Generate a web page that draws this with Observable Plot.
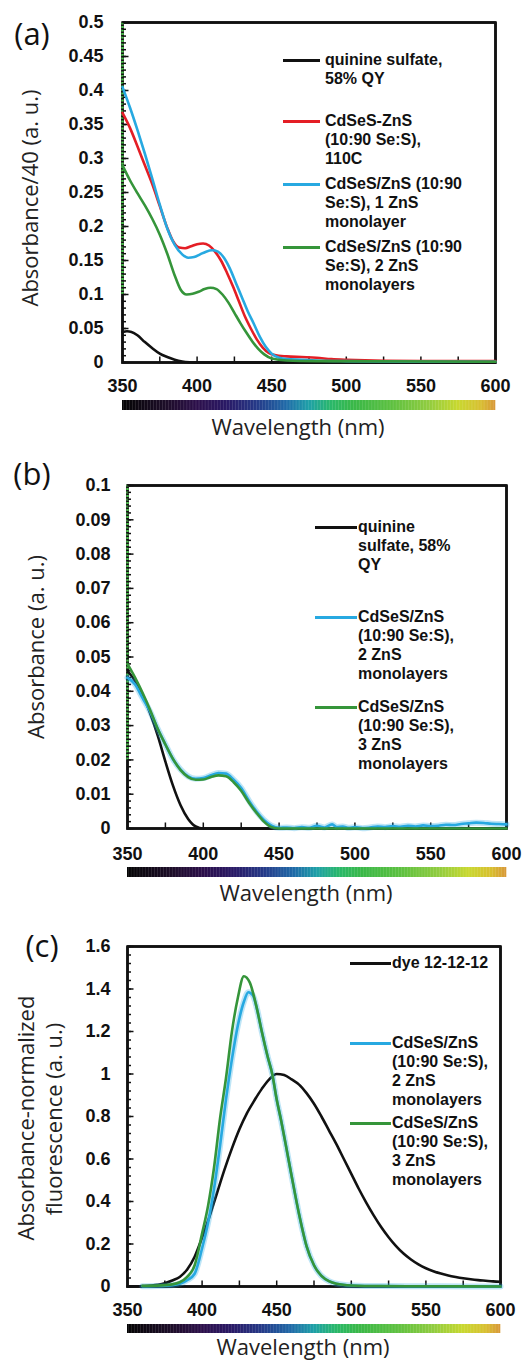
<!DOCTYPE html>
<html><head><meta charset="utf-8">
<script src="https://cdn.jsdelivr.net/npm/d3@7"></script>
<script src="https://cdn.jsdelivr.net/npm/@observablehq/plot@0.6"></script>
<style>
body{margin:0;background:#fff;}
#root{position:relative;width:522px;height:1361px;overflow:hidden;background:#fff;}
.ylab{position:absolute;font-family:"Open Sans",sans-serif;font-size:22px;color:#222;white-space:nowrap;transform:translate(-50%,-50%) rotate(-90deg);line-height:1;}
.xlab{position:absolute;font-family:"Open Sans",sans-serif;font-size:22px;color:#222;white-space:nowrap;transform:translate(-50%,-50%);line-height:1;font-weight:500;}
.plab{position:absolute;font-family:"Open Sans",sans-serif;font-size:31px;color:#111;transform:translate(-50%,-50%);line-height:1;}
.sw{position:absolute;height:3px;}
.lt{position:absolute;font-family:"Liberation Sans",Arial,sans-serif;font-weight:bold;font-size:16px;line-height:19px;color:#111;white-space:pre;}
</style></head>
<body><div id="root"></div>
<script>
// ---------- shared ----------
const xDomain = [350, 600];
const xTickLabels = [350, 400, 450, 500, 550, 600];
const xTickMarks = [375, 400, 425, 450, 475, 500, 525, 550, 575];
const specWl = [350, 380, 400, 420, 440, 460, 475, 490, 505, 530, 555, 575, 590, 600];
const specCol = ["#050505", "#1e0e2a", "#2c0f4a", "#2a1a66", "#263a88", "#1f6aa8", "#1fa0a8", "#2ab86a", "#3ab848", "#5cc040", "#90cc40", "#c8d830", "#d8c030", "#d89838"];
const colBlack = "#111111", colRed = "#e41e25", colBlue = "#27a9e1", colGreen = "#35953a", colAxisGreen = "#4cc04c";

// ---------- panel (a): Absorbance/40 ----------
const yTicksA = [0, 0.05, 0.1, 0.15, 0.2, 0.25, 0.3, 0.35, 0.4, 0.45, 0.5];
const greenAxisA = [0.1, 0.5];
const wlA_black = [350, 353, 356, 360, 365, 370, 375, 380, 385, 390, 395, 400, 450, 500, 600];
const absA_black = [0.045, 0.046, 0.045, 0.04, 0.03, 0.021, 0.013, 0.008, 0.004, 0.0015, 0.0004, 0, 0, 0, 0];
const wlA_red = [350, 355, 360, 365, 370, 375, 380, 384, 388, 392, 396, 400, 404, 408, 412, 416, 420, 424, 428, 432, 436, 440, 444, 448, 452, 460, 470, 480, 490, 500, 550, 600];
const absA_red = [0.367, 0.345, 0.318, 0.29, 0.262, 0.23, 0.198, 0.178, 0.169, 0.168, 0.171, 0.174, 0.175, 0.172, 0.163, 0.15, 0.132, 0.112, 0.09, 0.068, 0.05, 0.034, 0.022, 0.014, 0.011, 0.009, 0.008, 0.007, 0.005, 0.004, 0.002, 0.002];
const wlA_blue = [350, 355, 360, 365, 370, 375, 380, 385, 390, 394, 398, 402, 406, 410, 414, 418, 422, 426, 430, 434, 438, 442, 446, 450, 455, 460, 470, 480, 500, 550, 600];
const absA_blue = [0.405, 0.375, 0.342, 0.307, 0.27, 0.232, 0.197, 0.173, 0.159, 0.154, 0.155, 0.159, 0.163, 0.165, 0.163, 0.154, 0.138, 0.117, 0.096, 0.075, 0.057, 0.038, 0.023, 0.013, 0.007, 0.005, 0.004, 0.003, 0.002, 0.001, 0.001];
const wlA_green = [350, 355, 360, 365, 370, 375, 380, 385, 389, 393, 397, 401, 405, 409, 413, 417, 421, 425, 429, 433, 437, 441, 445, 450, 460, 480, 600];
const absA_green = [0.29, 0.268, 0.249, 0.231, 0.211, 0.188, 0.16, 0.128, 0.107, 0.1, 0.101, 0.104, 0.108, 0.11, 0.108, 0.1, 0.088, 0.073, 0.058, 0.044, 0.031, 0.02, 0.012, 0.006, 0.003, 0.002, 0.001];

// ---------- panel (b): Absorbance ----------
const yTicksB = [0, 0.01, 0.02, 0.03, 0.04, 0.05, 0.06, 0.07, 0.08, 0.09, 0.1];
const greenAxisB = [0.02, 0.1];
const wlB_black = [350, 355, 360, 365, 370, 375, 380, 385, 390, 395, 400, 600];
const absB_black = [0.046, 0.043, 0.039, 0.0335, 0.027, 0.0195, 0.0125, 0.0068, 0.0028, 0.0006, 0, 0];
const wlB_blue = [350, 355, 360, 365, 370, 375, 380, 385, 390, 395, 400, 405, 410, 415, 420, 425, 430, 435, 440, 445, 450, 455, 460, 465, 470, 475, 480, 485, 488, 492, 496, 500, 505, 510, 515, 520, 525, 530, 535, 540, 545, 550, 555, 560, 565, 570, 575, 580, 585, 590, 595, 600];
const absB_blue = [0.044, 0.042, 0.038, 0.034, 0.029, 0.0245, 0.0202, 0.0172, 0.0152, 0.0145, 0.0147, 0.0155, 0.0162, 0.016, 0.0142, 0.0118, 0.0082, 0.005, 0.0025, 0.0008, 0.0002, 0.0003, 0.0001, 0.0004, 0.0002, 0.0008, 0.0003, 0.0012, 0.0004, 0.0006, 0.0002, 0.0004, 0.0001, 0.0003, 0.0006, 0.0004, 0.0007, 0.0005, 0.0008, 0.0006, 0.0009, 0.0007, 0.0008, 0.0011, 0.001, 0.0013, 0.0015, 0.0017, 0.0016, 0.0014, 0.0013, 0.0012];
const wlB_green = [350, 355, 360, 365, 370, 375, 380, 385, 390, 395, 400, 405, 410, 415, 420, 425, 430, 435, 440, 445, 450, 600];
const absB_green = [0.048, 0.044, 0.0395, 0.0345, 0.029, 0.0245, 0.0203, 0.017, 0.015, 0.0142, 0.0143, 0.015, 0.0155, 0.0152, 0.0135, 0.011, 0.0076, 0.0046, 0.002, 0.0004, 0, 0];

// ---------- panel (c): absorbance-normalized fluorescence ----------
const yTicksC = [0, 0.2, 0.4, 0.6, 0.8, 1, 1.2, 1.4, 1.6];
const wlC_black = [350, 360, 370, 375, 380, 385, 390, 395, 400, 405, 410, 415, 420, 425, 430, 435, 440, 445, 450, 455, 460, 465, 470, 475, 480, 485, 490, 495, 500, 505, 510, 515, 520, 525, 530, 535, 540, 545, 550, 555, 560, 565, 570, 575, 580, 585, 590, 595, 600];
const flC_black = [0, 0.002, 0.008, 0.015, 0.028, 0.045, 0.08, 0.14, 0.23, 0.33, 0.44, 0.55, 0.65, 0.74, 0.815, 0.875, 0.93, 0.975, 1.0, 0.995, 0.975, 0.95, 0.91, 0.86, 0.8, 0.735, 0.67, 0.6, 0.53, 0.46, 0.395, 0.335, 0.28, 0.232, 0.19, 0.155, 0.127, 0.104, 0.086, 0.072, 0.061, 0.052, 0.045, 0.039, 0.034, 0.03, 0.027, 0.024, 0.022];
const wlC_blue = [360, 370, 380, 390, 395, 400, 404, 408, 412, 416, 420, 424, 428, 431, 434, 437, 440, 444, 447, 450, 453, 456, 460, 465, 470, 475, 480, 485, 490, 500, 520, 560, 600];
const flC_blue = [0.001, 0.002, 0.006, 0.03, 0.06, 0.18, 0.3, 0.46, 0.66, 0.88, 1.07, 1.23, 1.34, 1.385, 1.37, 1.3, 1.2, 1.08, 1.0, 0.88, 0.78, 0.67, 0.52, 0.34, 0.19, 0.1, 0.05, 0.025, 0.013, 0.005, 0.002, 0.001, 0];
const wlC_green = [360, 370, 380, 385, 390, 395, 400, 404, 408, 412, 416, 420, 424, 428, 432, 436, 440, 444, 447, 450, 453, 456, 460, 465, 470, 475, 480, 485, 490, 500, 520, 560, 600];
const flC_green = [0.003, 0.004, 0.01, 0.02, 0.045, 0.1, 0.25, 0.38, 0.56, 0.79, 0.98, 1.2, 1.36, 1.46, 1.43, 1.33, 1.2, 1.08, 1.0, 0.88, 0.78, 0.67, 0.52, 0.34, 0.19, 0.1, 0.05, 0.025, 0.013, 0.005, 0.002, 0.001, 0];

const root = document.getElementById("root");
const toRows = (wl, v) => wl.map((x, i) => ({x, y: v[i]}));

function panel({top, mt, ml, mr, fh, cb, yTicks, yMinor, series, greenAxis, yPad, xPad}) {
  const width = 522;
  const mb = cb[1] + 2;
  const height = mt + fh + mb;
  const fw = width - ml - mr;
  const yDomain = [yTicks[0], yTicks[yTicks.length - 1]];
  // pixel lengths converted to the scales' units (inward ticks, colour strip)
  const pxToY = (p) => yDomain[0] - p * (yDomain[1] - yDomain[0]) / fh;
  const pxX = (p) => p * (xDomain[1] - xDomain[0]) / fw;
  const pxY = (p) => p * (yDomain[1] - yDomain[0]) / fh;
  const bins = d3.range(xDomain[0], xDomain[1], 1);
  // frame outline and inward tick segments, drawn as paths
  const frameRows = [
    {x: xDomain[0], y: yDomain[0]}, {x: xDomain[1], y: yDomain[0]},
    {x: xDomain[1], y: yDomain[1]}, {x: xDomain[0], y: yDomain[1]}, {x: xDomain[0], y: yDomain[0]}
  ];
  const tickRows = [];
  yMinor.forEach((v, i) => { tickRows.push({x: xDomain[0], y: v, k: "ym" + i}, {x: xDomain[0] + pxX(3.5), y: v, k: "ym" + i}); });
  yTicks.forEach((v, i) => { tickRows.push({x: xDomain[0], y: v, k: "yM" + i}, {x: xDomain[0] + pxX(6), y: v, k: "yM" + i}); });
  xTickMarks.forEach((v, i) => { tickRows.push({x: v, y: yDomain[0], k: "x" + i}, {x: v, y: yDomain[0] + pxY(6), k: "x" + i}); });

  const marks = [];
  marks.push(Plot.rect(bins, {x1: d => d, x2: d => d + 1.2, y1: pxToY(cb[0]), y2: pxToY(cb[1]), fill: d => d + 0.5}));
  marks.push(Plot.frame({stroke: colBlack, strokeWidth: 2.5}));
  marks.push(Plot.line(frameRows, {x: "x", y: "y", stroke: colBlack, strokeWidth: 2.5, strokeLinejoin: "miter", strokeLinecap: "square"}));
  if (greenAxis) marks.push(Plot.ruleX([xDomain[0]], {y1: greenAxis[0], y2: greenAxis[1], stroke: colAxisGreen, strokeWidth: 2.5, strokeDasharray: "2,1.5"}));
  marks.push(Plot.line(tickRows, {x: "x", y: "y", z: "k", stroke: colBlack, strokeWidth: 1.5, strokeLinecap: "butt"}));
  for (const s of series) {
    const rows = toRows(s.wl, s.v);
    if (s.halo) marks.push(Plot.line(rows, {x: "x", y: "y", stroke: s.color, strokeWidth: 6, strokeOpacity: 0.3, curve: "monotone-x"}));
    marks.push(Plot.line(rows, {x: "x", y: "y", stroke: s.color, strokeWidth: 2.6, curve: "monotone-x"}));
  }
  marks.push(Plot.axisX(xTickLabels, {tickSize: 0, tickPadding: xPad, label: null, tickFormat: d => String(d)}));
  marks.push(Plot.axisY(yTicks, {tickSize: 0, tickPadding: yPad, label: null, tickFormat: d3.format("~g")}));
  const svg = Plot.plot({
    width, height, marginTop: mt, marginBottom: mb, marginLeft: ml, marginRight: mr,
    x: {domain: xDomain},
    y: {domain: yDomain},
    color: {type: "linear", domain: specWl, range: specCol},
    style: {fontFamily: "'Liberation Sans', Arial, sans-serif", fontSize: "18px", fontWeight: "bold", color: "#111", background: "transparent", overflow: "visible"},
    marks
  });
  svg.style.position = "absolute";
  svg.style.left = "0px";
  svg.style.top = top + "px";
  root.appendChild(svg);
}

function addDiv(cls, text, x, y) {
  const d = document.createElement("div");
  d.className = cls; d.textContent = text;
  d.style.left = x + "px"; d.style.top = y + "px";
  root.appendChild(d);
  return d;
}

function addLegend(entries, x1, x2, tx) {
  for (const e of entries) {
    const s = document.createElement("div");
    s.className = "sw";
    s.style.left = x1 + "px"; s.style.width = (x2 - x1) + "px";
    s.style.top = (e.y - 1.5) + "px"; s.style.background = e.color;
    root.appendChild(s);
    addDiv("lt", e.text, tx, e.y - 10);
  }
}

// panel (a): frame 122..495 x, 22..362 y; colour strip 400..410
panel({top: 0, mt: 22, ml: 122, mr: 27, fh: 340, cb: [38, 48], yTicks: yTicksA, yMinor: d3.range(0, 0.5001, 0.01),
  greenAxis: greenAxisA, yPad: 19, xPad: 17,
  series: [
    {wl: wlA_black, v: absA_black, color: colBlack},
    {wl: wlA_red, v: absA_red, color: colRed},
    {wl: wlA_blue, v: absA_blue, color: colBlue},
    {wl: wlA_green, v: absA_green, color: colGreen}
  ]});
addDiv("xlab", "Wavelength (nm)", 298, 426);
addDiv("ylab", "Absorbance/40 (a. u.)", 29, 198);
addDiv("plab", "(a)", 32, 33);
addLegend([
  {text: "quinine sulfate,\n58% QY", color: colBlack, y: 60},
  {text: "CdSeS-ZnS\n(10:90 Se:S),\n110C", color: colRed, y: 121},
  {text: "CdSeS/ZnS (10:90\nSe:S), 1 ZnS\nmonolayer", color: colBlue, y: 184},
  {text: "CdSeS/ZnS (10:90\nSe:S), 2 ZnS\nmonolayers", color: colGreen, y: 247}
], 283, 320, 325);

// panel (b): frame 127..506 x, 485..828 y; colour strip 867..877
panel({top: 460, mt: 25, ml: 127, mr: 16, fh: 343, cb: [39, 49], yTicks: yTicksB, yMinor: d3.range(0, 0.1001, 0.002),
  greenAxis: greenAxisB, yPad: 17, xPad: 19,
  series: [
    {wl: wlB_black, v: absB_black, color: colBlack},
    {wl: wlB_blue, v: absB_blue, color: colBlue, halo: true},
    {wl: wlB_green, v: absB_green, color: colGreen}
  ]});
addDiv("xlab", "Wavelength (nm)", 306, 892);
addDiv("ylab", "Absorbance (a. u.)", 35, 647);
addDiv("plab", "(b)", 32, 473);
addLegend([
  {text: "quinine\nsulfate, 58%\nQY", color: colBlack, y: 527},
  {text: "CdSeS/ZnS\n(10:90 Se:S),\n2 ZnS\nmonolayers", color: colBlue, y: 617},
  {text: "CdSeS/ZnS\n(10:90 Se:S),\n3 ZnS\nmonolayers", color: colGreen, y: 707}
], 315, 357, 358);

// panel (c): frame 127..500 x, 946..1286 y; colour strip 1324..1333
panel({top: 920, mt: 26, ml: 127, mr: 22, fh: 340, cb: [38, 47], yTicks: yTicksC, yMinor: d3.range(0, 1.6001, 0.04),
  greenAxis: null, yPad: 17, xPad: 17,
  series: [
    {wl: wlC_black, v: flC_black, color: colBlack},
    {wl: wlC_blue, v: flC_blue, color: colBlue, halo: true},
    {wl: wlC_green, v: flC_green, color: colGreen}
  ]});
addDiv("xlab", "Wavelength (nm)", 303, 1346);
addDiv("ylab", "Absorbance-normalized", 25, 1118);
addDiv("ylab", "fluorescence (a. u.)", 53, 1119);
addDiv("plab", "(c)", 42, 945);
addLegend([
  {text: "dye 12-12-12", color: colBlack, y: 963},
  {text: "CdSeS/ZnS\n(10:90 Se:S),\n2 ZnS\nmonolayers", color: colBlue, y: 1043},
  {text: "CdSeS/ZnS\n(10:90 Se:S),\n3 ZnS\nmonolayers", color: colGreen, y: 1123}
], 350, 391, 392);
</script></body></html>
